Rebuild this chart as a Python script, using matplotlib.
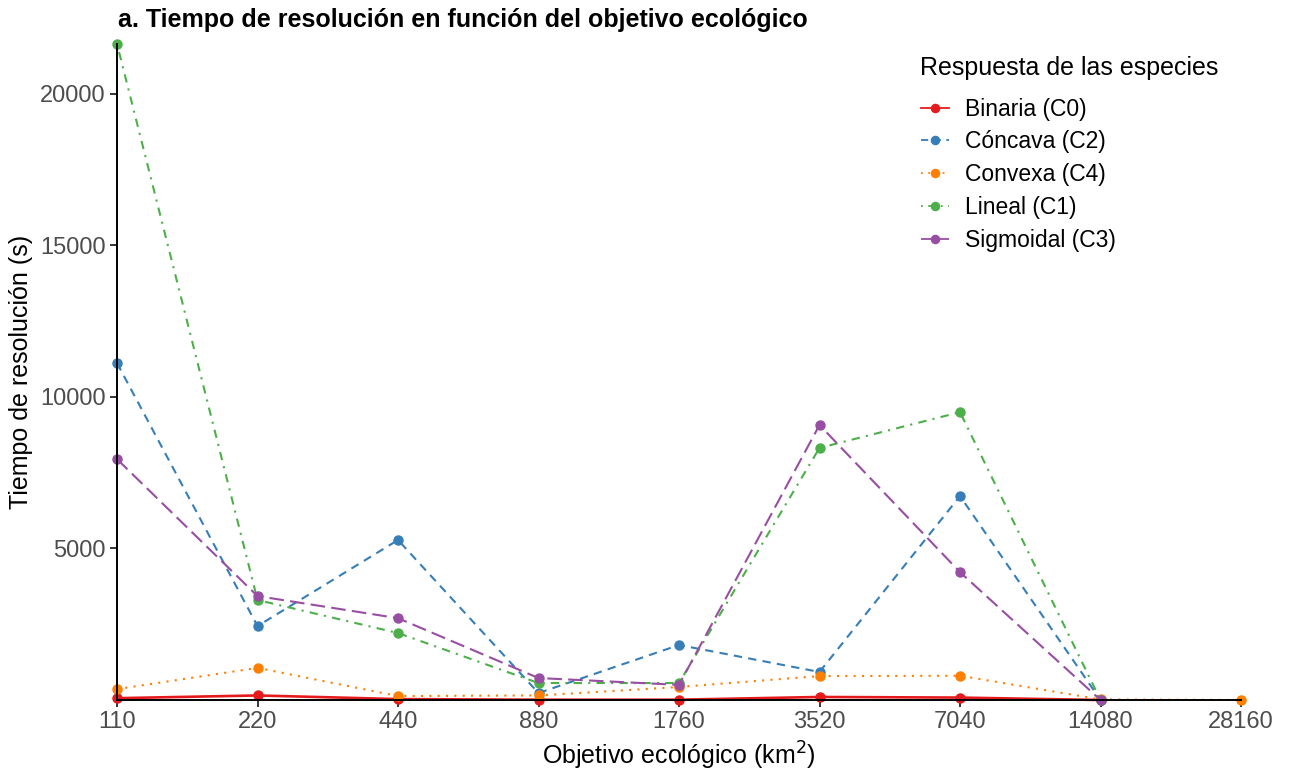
import numpy as np
import matplotlib
matplotlib.use("Agg")
import matplotlib.pyplot as plt

plt.rcParams["font.family"] = ["Liberation Sans", "DejaVu Sans"]

# objective sizes (km2), plotted as equally spaced categories
objetivos = ["110", "220", "440", "880", "1760", "3520", "7040", "14080", "28160"]

binaria = [60, 150, 30, 10, 10, 100, 80, 0, np.nan]
concava = [11120, 2440, 5280, 230, 1815, 925, 6730, 0, np.nan]
convexa = [360, 1060, 130, 150, 430, 790, 800, 20, 0]
lineal = [21650, 3300, 2210, 560, 560, 8320, 9500, 0, np.nan]
sigmoidal = [7950, 3430, 2700, 725, 500, 9075, 4220, 0, np.nan]

series = [
    ("Binaria (C0)", binaria, "#E41A1C", "-"),
    ("Cóncava (C2)", concava, "#377EB8", (0, (4, 3))),
    ("Convexa (C4)", convexa, "#FF7F00", (0, (1, 3))),
    ("Lineal (C1)", lineal, "#4DAF4A", (0, (1, 3, 4, 3))),
    ("Sigmoidal (C3)", sigmoidal, "#984EA3", (0, (7, 3))),
]

W, H = 1292, 772
fig = plt.figure(figsize=(W / 100, H / 100), dpi=100)
ax = fig.add_axes([117 / W, 72 / H, 1124 / W, 656 / H])

x = np.arange(len(objetivos))
for name, vals, col, ls in series:
    lw = 1.9 if ls == "-" else 1.5
    ax.plot(x, vals, color=col, linestyle=ls, lw=lw, marker="o", ms=6.5,
            label=name, clip_on=False, zorder=3)

ax.set_xlim(0, len(objetivos) - 1)
ax.set_ylim(0, 21650)
ax.set_xticks(x)
ax.set_xticklabels(objetivos)
ax.set_yticks([5000, 10000, 15000, 20000])
ax.tick_params(axis="both", colors="black", labelcolor="#4D4D4D", labelsize=17,
               length=5, width=1.1, direction="out", pad=3)
for side in ("top", "right"):
    ax.spines[side].set_visible(False)
for side in ("left", "bottom"):
    ax.spines[side].set_linewidth(1.4)
    ax.spines[side].set_color("black")
    ax.spines[side].set_zorder(5)

ax.set_xlabel("Objetivo ecológico (km$^{2}$)", fontsize=18, labelpad=5)
ax.set_ylabel("Tiempo de resolución (s)", fontsize=18, labelpad=5)
fig.text(118 / W, 1 - 20 / H, "a. Tiempo de resolución en función del objetivo ecológico",
         fontsize=18, fontweight="bold", va="center", ha="left")

# legend title drawn separately so its gap to the entries can be set
fig.text(920 / W, 1 - 68 / H, "Respuesta de las especies", fontsize=18,
         va="center", ha="left")
leg = ax.legend(loc="upper left", bbox_to_anchor=(900 / W, 1 - 77 / H),
                bbox_transform=fig.transFigure, frameon=False, fontsize=16.5,
                handlelength=1.25, handletextpad=0.7, labelspacing=0.43,
                markerscale=0.9)
for h in leg.get_lines():
    h.set_linewidth(1.3)

fig.savefig("out.png", dpi=100, facecolor="white")
